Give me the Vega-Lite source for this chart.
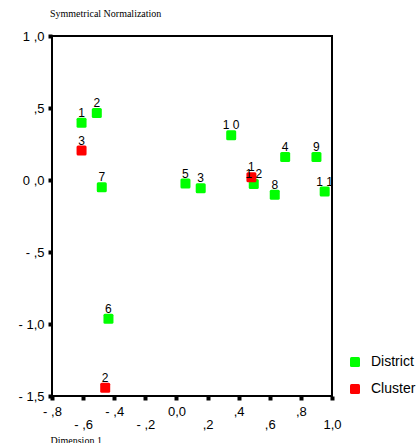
{
  "$schema": "https://vega.github.io/schema/vega-lite/v6.json",
  "width": 280,
  "height": 360,
  "autosize": "none",
  "padding": {"left": 52, "top": 36, "right": 86, "bottom": 47},
  "background": "white",
  "title": {"text": "Symmetrical Normalization", "anchor": "start", "frame": "group", "font": "Liberation Serif", "fontSize": 10, "fontWeight": "normal", "color": "black", "offset": 3, "baseline": "alphabetic", "dx": -2},
  "config": {"view": {"stroke": "black", "strokeWidth": 2}},
  "data": {"values": [
    {"group": "District", "label": "1", "dim1": -0.61, "dim2": 0.398},
    {"group": "District", "label": "2", "dim1": -0.512, "dim2": 0.465},
    {"group": "District", "label": "3", "dim1": 0.156, "dim2": -0.058},
    {"group": "District", "label": "4", "dim1": 0.699, "dim2": 0.16},
    {"group": "District", "label": "5", "dim1": 0.058, "dim2": -0.025},
    {"group": "District", "label": "6", "dim1": -0.437, "dim2": -0.963},
    {"group": "District", "label": "7", "dim1": -0.48, "dim2": -0.05},
    {"group": "District", "label": "8", "dim1": 0.632, "dim2": -0.103},
    {"group": "District", "label": "9", "dim1": 0.9, "dim2": 0.16},
    {"group": "District", "label": "1 0", "dim1": 0.352, "dim2": 0.31},
    {"group": "District", "label": "1 1", "dim1": 0.953, "dim2": -0.08},
    {"group": "District", "label": "1 2", "dim1": 0.497, "dim2": -0.027},
    {"group": "Cluster", "label": "1", "dim1": 0.482, "dim2": 0.019},
    {"group": "Cluster", "label": "2", "dim1": -0.458, "dim2": -1.442},
    {"group": "Cluster", "label": "3", "dim1": -0.61, "dim2": 0.204}
  ]},
  "encoding": {
    "x": {"field": "dim1", "type": "quantitative",
      "scale": {"domain": [-0.8, 1.0], "nice": false, "zero": false},
      "axis": {
        "values": [-0.8, -0.6, -0.4, -0.2, 0, 0.2, 0.4, 0.6, 0.8, 1.0],
        "labelExpr": "(abs(round(datum.value*10))/2)%2==1 ? ['', (round(datum.value*10)==10 ? '1,0' : (round(datum.value*10)<0 ? '- ,' : ',') + abs(round(datum.value*10)))] : (round(datum.value*10)==0 ? '0,0' : (round(datum.value*10)<0 ? '- ,' : ',') + abs(round(datum.value*10)))",
        "grid": false, "domain": false,
        "tickSize": 4, "tickWidth": 4, "tickColor": "black",
        "labelFont": "Liberation Sans", "labelFontSize": 13, "labelColor": "black",
        "labelPadding": 5, "labelBaseline": "top", "labelLineHeight": 13.5,
        "labelFlush": false, "labelOverlap": false,
        "title": "Dimension 1", "titleFont": "Liberation Serif", "titleFontSize": 10, "titleFontWeight": "normal", "titleColor": "black",
        "titleAnchor": "start", "titleAlign": "left", "titleX": -2, "titleY": 47, "titleBaseline": "alphabetic"
      }
    },
    "y": {"field": "dim2", "type": "quantitative",
      "scale": {"domain": [-1.5, 1.0], "nice": false, "zero": false},
      "axis": {
        "values": [-1.5, -1.0, -0.5, 0, 0.5, 1.0],
        "labelExpr": "round(datum.value*10)==10 ? '1 ,0' : round(datum.value*10)==5 ? ',5' : round(datum.value*10)==0 ? '0 ,0' : round(datum.value*10)==-5 ? '- ,5' : round(datum.value*10)==-10 ? '- 1,0' : '- 1,5'",
        "grid": false, "domain": false,
        "tickSize": 4, "tickWidth": 4, "tickColor": "black",
        "labelFont": "Liberation Sans", "labelFontSize": 13, "labelColor": "black",
        "labelPadding": 4, "labelBaseline": "middle", "labelFlush": false, "labelOverlap": false,
        "title": null
      }
    }
  },
  "layer": [
    {
      "mark": {"type": "point", "filled": true, "size": 100, "opacity": 1,
        "shape": "M-0.7,-1L0.7,-1Q1,-1 1,-0.7L1,0.7Q1,1 0.7,1L-0.7,1Q-1,1 -1,0.7L-1,-0.7Q-1,-1 -0.7,-1Z"},
      "encoding": {
        "color": {"field": "group", "type": "nominal",
          "scale": {"domain": ["District", "Cluster"], "range": ["#00ff00", "#ff0000"]},
          "legend": {"orient": "none", "legendX": 296, "legendY": 319, "title": null,
            "symbolType": "M-0.7,-1L0.7,-1Q1,-1 1,-0.7L1,0.7Q1,1 0.7,1L-0.7,1Q-1,1 -1,0.7L-1,-0.7Q-1,-1 -0.7,-1Z",
            "symbolSize": 100, "symbolStrokeWidth": 0, "symbolOpacity": 1,
            "labelFont": "Liberation Sans", "labelFontSize": 14, "labelColor": "black",
            "labelOffset": 9, "rowPadding": 13, "padding": 0}
        }
      }
    },
    {
      "mark": {"type": "text", "dy": -10, "fontSize": 12, "font": "Liberation Sans", "color": "black", "baseline": "middle", "align": "center"},
      "encoding": {"text": {"field": "label", "type": "nominal"}}
    }
  ]
}
